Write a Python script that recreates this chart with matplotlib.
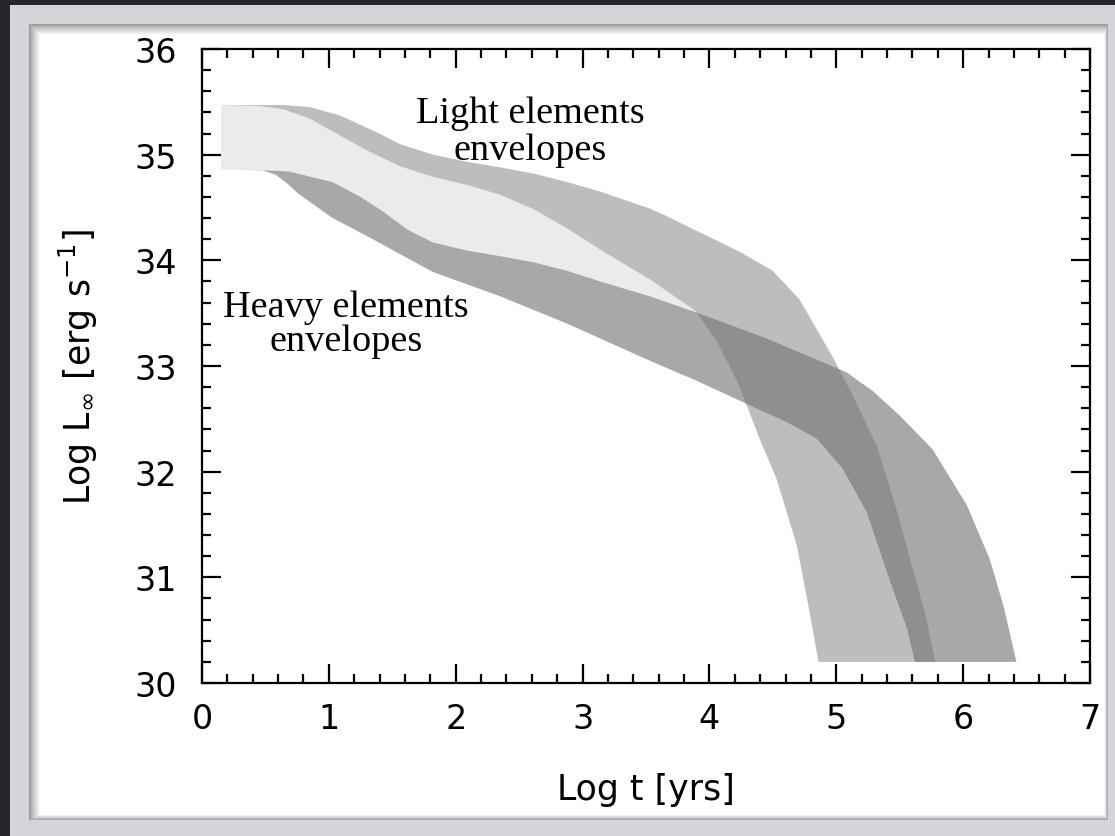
import numpy as np
import matplotlib
matplotlib.use("Agg")
import matplotlib.pyplot as plt
from matplotlib.patches import Rectangle, Polygon
from matplotlib.ticker import MultipleLocator

# Envelope boundaries: log t [yrs] vs log L_inf [erg/s]
light_upper_t = [0.15, 0.64, 0.85, 1.09, 1.38, 1.56, 1.82, 2.10, 2.35, 2.62, 2.88, 3.14,
                 3.53, 3.66, 4.00, 4.24, 4.50, 4.71, 4.97, 5.13, 5.32, 5.48, 5.61, 5.71, 5.78]
light_upper_L = [35.47, 35.47, 35.45, 35.37, 35.21, 35.10, 35.00, 34.93, 34.88, 34.82, 34.74, 34.65,
                 34.49, 34.42, 34.22, 34.08, 33.90, 33.63, 33.09, 32.72, 32.24, 31.62, 31.05, 30.61, 30.20]

light_lower_t = [0.15, 0.45, 0.64, 0.85, 1.09, 1.30, 1.56, 1.82, 2.10, 2.35, 2.62, 2.88, 3.14,
                 3.53, 3.89, 4.06, 4.14, 4.22, 4.29, 4.40, 4.53, 4.69, 4.79, 4.86]
light_lower_L = [35.47, 35.46, 35.43, 35.34, 35.18, 35.04, 34.89, 34.79, 34.71, 34.62, 34.48, 34.30, 34.10,
                 33.82, 33.52, 33.23, 33.04, 32.85, 32.64, 32.30, 31.93, 31.30, 30.67, 30.20]

heavy_upper_t = [0.15, 0.55, 0.69, 1.03, 1.25, 1.43, 1.62, 1.82, 2.10, 2.35, 2.62, 2.88, 3.14,
                 3.53, 3.89, 4.45, 5.08, 5.29, 5.50, 5.76, 6.03, 6.21, 6.32, 6.42]
heavy_upper_L = [34.86, 34.85, 34.84, 34.74, 34.60, 34.46, 34.29, 34.17, 34.09, 34.04, 33.98, 33.90, 33.80,
                 33.66, 33.51, 33.26, 32.94, 32.76, 32.53, 32.21, 31.68, 31.17, 30.72, 30.20]

heavy_lower_t = [0.15, 0.48, 0.58, 0.66, 0.76, 1.03, 1.30, 1.82, 2.35, 2.88, 3.14, 3.53, 3.90, 4.26,
                 4.61, 4.85, 5.05, 5.24, 5.42, 5.56, 5.62]
heavy_lower_L = [34.86, 34.85, 34.81, 34.74, 34.63, 34.40, 34.23, 33.89, 33.66, 33.40, 33.26, 33.05, 32.86, 32.66,
                 32.47, 32.31, 32.03, 31.62, 30.98, 30.51, 30.20]

x_ticks = [0, 1, 2, 3, 4, 5, 6, 7]
y_ticks = [30, 31, 32, 33, 34, 35, 36]

C_GAP = "#ebebeb"
C_LIGHT = "#bdbdbd"
C_HEAVY = "#a8a8a8"
C_BOTH = "#8f8f8f"

W, H = 1115, 837
fig = plt.figure(figsize=(W / 100, H / 100), dpi=100)
fig.patch.set_facecolor("#26262c")


def px_rect(x0, y0, x1, y1, color, z):
    r = Rectangle((x0 / W, 1 - y1 / H), (x1 - x0) / W, (y1 - y0) / H,
                  transform=fig.transFigure, facecolor=color, edgecolor="none", zorder=z)
    fig.add_artist(r)


# slide frame with an inner shadow on the white card
px_rect(10, 6, W, H, "#d5d5d9", -20)
n_sh = 12
for k in range(n_sh):
    g = 0.60 + 0.40 * (k / (n_sh - 1)) ** 0.8
    px_rect(29 + k, 25 + k, 1108 - 0.35 * k, 821 - 0.5 * k, (g, g, g), -19 + k * 0.01)

ax = fig.add_axes([202 / W, 1 - 684 / H, 888 / W, 634 / H])
ax.set_facecolor("white")
ax.set_xlim(0, 7)
ax.set_ylim(30, 36)


def band(upper_t, upper_L, lower_t, lower_L):
    xs = np.concatenate([upper_t, lower_t[::-1]])
    ys = np.concatenate([upper_L, lower_L[::-1]])
    return np.column_stack([xs, ys])


# region lying between the two families of envelopes
gap = Polygon(band(light_lower_t, light_lower_L, heavy_upper_t, heavy_upper_L),
              closed=True, facecolor=C_GAP, edgecolor="none", zorder=1)
ax.add_patch(gap)

light = Polygon(band(light_upper_t, light_upper_L, light_lower_t, light_lower_L),
                closed=True, facecolor=C_LIGHT, edgecolor="none", zorder=2)
ax.add_patch(light)

heavy = Polygon(band(heavy_upper_t, heavy_upper_L, heavy_lower_t, heavy_lower_L),
                closed=True, facecolor=C_HEAVY, edgecolor="none", zorder=3)
ax.add_patch(heavy)

# where both envelopes overlap
both = Polygon(band(heavy_upper_t, heavy_upper_L, heavy_lower_t, heavy_lower_L),
               closed=True, facecolor=C_BOTH, edgecolor="none", zorder=4)
ax.add_patch(both)
both.set_clip_path(light)

serif = ["Liberation Serif", "DejaVu Serif"]
ax.text(2.59, 35.22, "Light elements\nenvelopes", ha="center", va="center",
        multialignment="center", fontsize=27.5, family=serif, linespacing=1.08, zorder=6)
ax.text(1.135, 33.40, "Heavy elements\nenvelopes", ha="center", va="center",
        multialignment="center", fontsize=27.5, family=serif, linespacing=1.0, zorder=6)

sans = "DejaVu Sans"

ax.set_xticks(x_ticks)
ax.set_yticks(y_ticks)
ax.set_xticklabels([str(v) for v in x_ticks])
ax.set_yticklabels([str(v) for v in y_ticks])
ax.xaxis.set_minor_locator(MultipleLocator(0.2))
ax.yaxis.set_minor_locator(MultipleLocator(0.2))
ax.tick_params(which="both", direction="in", top=True, right=True, width=1.6, color="black")
ax.tick_params(which="major", length=13.5)
ax.tick_params(which="minor", length=6.5)
ax.tick_params(axis="x", which="major", pad=14)
ax.tick_params(axis="y", which="major", pad=18)
for lab in ax.get_xticklabels() + ax.get_yticklabels():
    lab.set_fontfamily(sans)
    lab.set_fontsize(24)
for sp in ax.spines.values():
    sp.set_linewidth(1.6)
    sp.set_zorder(10)

ax.set_xlabel("Log t [yrs]", fontsize=25, family=sans)
ax.set_ylabel(r"Log L$_{\infty}$ [erg s$^{-1}$]", fontsize=25, family=sans)
ax.xaxis.set_label_coords(0.5, -0.14)
ax.yaxis.set_label_coords(-0.115, 0.5)

fig.savefig("out.png", dpi=100, facecolor=fig.get_facecolor())
